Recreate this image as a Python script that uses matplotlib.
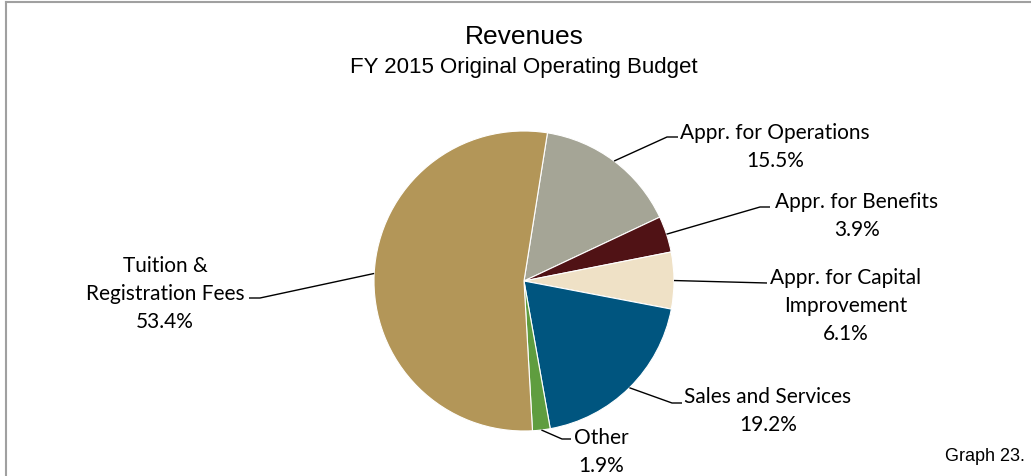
import matplotlib
matplotlib.use("Agg")
import matplotlib.pyplot as plt
import numpy as np
from matplotlib.lines import Line2D

# data
categories = ["Appr. for Operations", "Appr. for Benefits",
              "Appr. for Capital\nImprovement", "Sales and Services",
              "Other", "Tuition &\nRegistration Fees"]
shares = [15.5, 3.9, 6.1, 19.2, 1.9, 53.4]
colors = ["#A5A596", "#501215", "#EFE1C6", "#00557F", "#5F9D3F", "#B39658"]

title = "Revenues"
subtitle = "FY 2015 Original Operating Budget"
footnote = "Graph 23."

W, H = 1031, 477
CX, CY, R = 524, 282, 150   # pie centre / radius in pixels (from top)
START = 81

# label layout: (text centre x, text centre y, elbow x, elbow y, end x)
layout = [
    (775, 147, 667, 138, 678),
    (857, 216, 760, 208, 770),
    (846, 306, 767, 284, 767),
    (768, 411, 672, 404, 682),
    (601, 452, 562, 440, 571),
    (165, 294, 260, 299, 249),
]

fig = plt.figure(figsize=(W / 100, H / 100), dpi=100)
ax = fig.add_axes([0, 0, 1, 1])

ax.pie(shares, colors=colors, startangle=START, counterclock=False,
       center=(CX, H - CY), radius=R,
       wedgeprops=dict(edgecolor="white", linewidth=0.8))
ax.set_xlim(0, W)
ax.set_ylim(0, H)
ax.set_aspect("equal")
ax.axis("off")

# leader lines + labels
cum = np.cumsum([0] + shares)
label_font = "Lato"
for i, (cat, val) in enumerate(zip(categories, shares)):
    mid = np.deg2rad(START - 3.6 * (cum[i] + val / 2))
    x0 = CX + R * np.cos(mid)
    y0 = (H - CY) + R * np.sin(mid)
    tx, ty, ex, ey, endx = layout[i]
    ax.plot([x0, ex, endx], [y0, H - ey, H - ey], color="black", lw=1,
            solid_capstyle="butt")
    ax.text(tx, H - ty, f"{cat}\n{val:.1f}%", ha="center", va="center",
            multialignment="center", fontsize=15, family=label_font,
            linespacing=1.5)

# titles
fig.text(CX / W, 1 - 37 / H, title, ha="center", va="center",
         fontsize=19, family="Liberation Sans")
fig.text(CX / W, 1 - 67 / H, subtitle, ha="center", va="center",
         fontsize=16, family="Liberation Sans")
fig.text(1025 / W, 1 - 457 / H, footnote, ha="right", va="center",
         fontsize=13, family="Liberation Sans")

# chart frame (left and top edges only visible)
fig.add_artist(Line2D([6 / W, 6 / W], [0, 1 - 3 / H], color="#A0A0A0", lw=1.5))
fig.add_artist(Line2D([6 / W, 1], [1 - 3 / H, 1 - 3 / H], color="#A0A0A0", lw=1.5))

fig.savefig("out.png", dpi=100)
